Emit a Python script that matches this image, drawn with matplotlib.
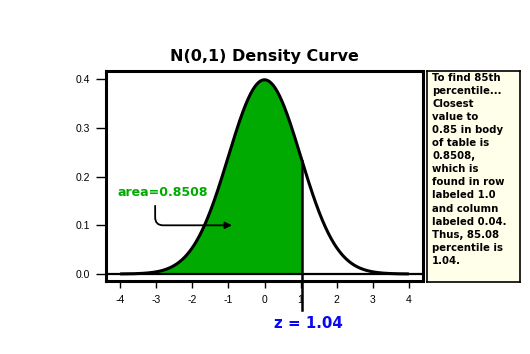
import numpy as np
import matplotlib
matplotlib.use("Agg")
import matplotlib.pyplot as plt

# ---- data ----
mean = 0.0
sd = 1.0
z_value = 1.04
area_label = "area=0.8508"
z_label = "z = 1.04"
title = "N(0,1) Density Curve"
x_ticks = [-4, -3, -2, -1, 0, 1, 2, 3, 4]
y_ticks = [0.0, 0.1, 0.2, 0.3, 0.4]
y_tick_labels = ["0.0", "0.1", "0.2", "0.3", "0.4"]
note_lines = ["To find 85th", "percentile...", "Closest", "value to",
              "0.85 in body", "of table is", "0.8508,", "which is",
              "found in row", "labeled 1.0", "and column", "labeled 0.04.",
              "Thus, 85.08", "percentile is", "1.04."]

x = np.linspace(-4, 4, 801)
pdf = np.exp(-0.5 * ((x - mean) / sd) ** 2) / (sd * np.sqrt(2 * np.pi))
z_pdf = np.exp(-0.5 * ((z_value - mean) / sd) ** 2) / (sd * np.sqrt(2 * np.pi))

GREEN = "#00AA00"
BLUE = "#0A0AF0"

fig = plt.figure(figsize=(5.3, 3.54), dpi=100)
fig.patch.set_facecolor("white")
ax = fig.add_axes([105.7 / 530, 1 - 281 / 354, (423 - 105.7) / 530, (281 - 71) / 354])

mask = x <= z_value
xf = np.append(x[mask], z_value)
yf = np.append(pdf[mask], z_pdf)
ax.fill_between(xf, 0, yf, color=GREEN, lw=0)
ax.plot(x, pdf, color="black", lw=2.2, solid_capstyle="butt")
ax.axhline(0, color="black", lw=1.6)
ax.plot([z_value, z_value], [z_pdf, -0.074], color="black", lw=1.8, clip_on=False)

ax.set_xlim(-4.4, 4.39)
ax.set_ylim(-0.0144, 0.417)
ax.set_xticks(x_ticks)
ax.set_xticklabels([str(t) for t in x_ticks], family="Liberation Sans")
ax.set_yticks(y_ticks)
ax.set_yticklabels(y_tick_labels, family="Liberation Sans")
ax.tick_params(axis="x", length=5, width=1, labelsize=7.5, pad=5)
ax.tick_params(axis="y", length=7, width=1, labelsize=7.5, pad=4)
for s in ax.spines.values():
    s.set_linewidth(2.2)

ax.set_title(title, fontsize=11.5, fontweight="bold", pad=7)

ax.text(-4.08, 0.167, area_label, color=GREEN, fontsize=9, fontweight="bold",
        ha="left", va="center")
ax.annotate("", xy=(-0.9, 0.1), xytext=(-3.03, 0.14),
            arrowprops=dict(arrowstyle="-|>", color="black", lw=1.3,
                            connectionstyle="angle,angleA=-90,angleB=0,rad=8",
                            shrinkA=0, shrinkB=0, mutation_scale=10))

ax.text(1.23, -0.101, z_label, color=BLUE, fontsize=10.8, fontweight="bold",
        ha="center", va="center", clip_on=False)

# note box
nax = fig.add_axes([427 / 530, 1 - 282 / 354, (520 - 427) / 530, (282 - 71) / 354])
nax.set_facecolor("#FFFFEA")
nax.set_xticks([])
nax.set_yticks([])
for s in nax.spines.values():
    s.set_linewidth(1.2)
nax.text(0.055, 0.99, "\n".join(note_lines), transform=nax.transAxes,
         fontsize=7.3, fontweight="bold", ha="left", va="top", linespacing=1.38)

fig.savefig("out.png", dpi=100)
